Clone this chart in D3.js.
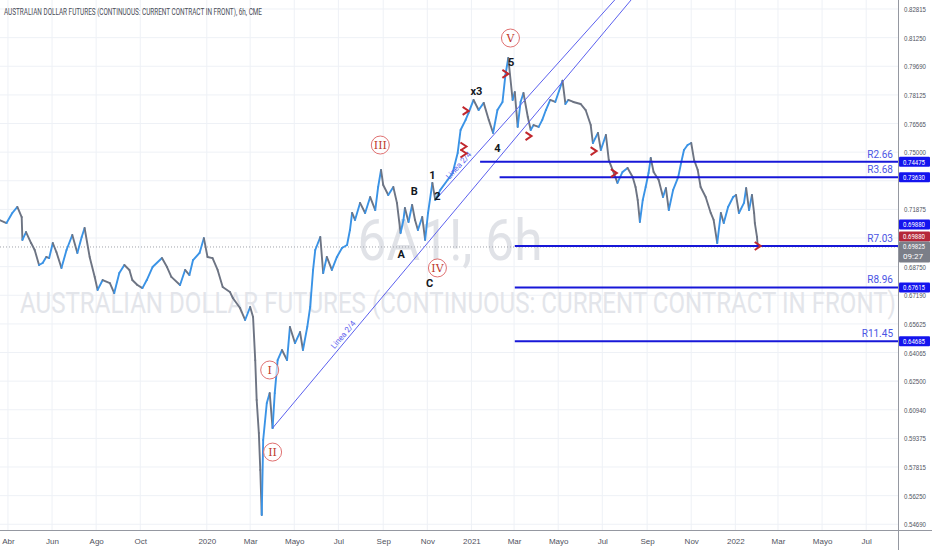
<!DOCTYPE html>
<html>
<head>
<meta charset="utf-8">
<title>6A1!, 6h</title>
<script src="https://d3js.org/d3.v7.min.js"></script>
<style>
  body { margin: 0; background: #fff; }
  svg { display: block; font-family: Roboto, "Liberation Sans", sans-serif; }
</style>
</head>
<body>
<div id="chart"></div>
<script>
// price path of 6A1!, roughly every few days
var dates = [
  "2019-03-20","2019-03-30","2019-04-07","2019-04-14","2019-04-20","2019-04-21","2019-04-26","2019-05-03","2019-05-08","2019-05-14",
  "2019-05-19","2019-05-24","2019-05-28","2019-06-02","2019-06-07","2019-06-14","2019-06-21","2019-06-29","2019-07-06","2019-07-12",
  "2019-07-16","2019-07-23","2019-07-30","2019-08-03","2019-08-10","2019-08-20","2019-08-26","2019-09-02","2019-09-09","2019-09-16",
  "2019-09-20","2019-09-27","2019-10-04","2019-10-10","2019-10-18","2019-10-31","2019-11-07","2019-11-13","2019-11-25","2019-12-02",
  "2019-12-08","2019-12-13","2019-12-22","2019-12-28","2020-01-02","2020-01-09","2020-01-16","2020-01-23","2020-02-02","2020-02-06",
  "2020-02-16","2020-02-23","2020-03-01","2020-03-05","2020-03-08","2020-03-10","2020-03-13","2020-03-15","2020-03-17","2020-03-19",
  "2020-03-24","2020-03-28","2020-04-01","2020-04-04","2020-04-08","2020-04-14","2020-04-21","2020-04-25","2020-05-02","2020-05-09",
  "2020-05-13","2020-05-19","2020-05-23","2020-05-27","2020-05-30","2020-06-06","2020-06-10","2020-06-15","2020-06-22","2020-06-29",
  "2020-07-06","2020-07-13","2020-07-17","2020-07-20","2020-07-24","2020-07-31","2020-08-07","2020-08-14","2020-08-21","2020-08-25",
  "2020-08-29","2020-09-01","2020-09-08","2020-09-15","2020-09-20","2020-09-25","2020-09-29","2020-10-01","2020-10-06","2020-10-11",
  "2020-10-15","2020-10-19","2020-10-25","2020-10-29","2020-11-02","2020-11-08","2020-11-12","2020-11-19","2020-11-29","2020-12-06",
  "2020-12-13","2020-12-17","2020-12-24","2020-12-28","2021-01-04","2021-01-11","2021-01-18","2021-01-25","2021-01-31","2021-02-06",
  "2021-02-13","2021-02-17","2021-02-21","2021-02-27","2021-03-02","2021-03-06","2021-03-10","2021-03-14","2021-03-20","2021-03-24",
  "2021-03-28","2021-04-04","2021-04-09","2021-04-14","2021-04-20","2021-04-27","2021-05-07","2021-05-11","2021-05-15","2021-05-22",
  "2021-06-01","2021-06-08","2021-06-15","2021-06-18","2021-06-25","2021-06-29","2021-07-06","2021-07-10","2021-07-17","2021-07-22",
  "2021-07-29","2021-08-05","2021-08-12","2021-08-16","2021-08-19","2021-08-22","2021-08-26","2021-08-30","2021-09-03","2021-09-06",
  "2021-09-10","2021-09-17","2021-09-23","2021-09-27","2021-10-01","2021-10-07","2021-10-14","2021-10-18","2021-10-22","2021-10-27",
  "2021-11-01","2021-11-05","2021-11-10","2021-11-14","2021-11-21","2021-11-28","2021-12-02","2021-12-07","2021-12-12","2021-12-16",
  "2021-12-22","2021-12-29","2022-01-02","2022-01-06","2022-01-13","2022-01-16","2022-01-20","2022-01-24","2022-01-27","2022-01-28",
  "2022-01-31","2022-02-01"
];
var prices = [
  0.7130,0.7113,0.7168,0.7201,0.7146,0.7021,0.7064,0.7004,0.6966,0.6884,
  0.6895,0.6928,0.6922,0.7004,0.6955,0.6868,0.6966,0.7048,0.6950,0.7037,
  0.7086,0.6928,0.6819,0.6748,0.6802,0.6785,0.6731,0.6840,0.6884,0.6857,
  0.6802,0.6775,0.6758,0.6802,0.6873,0.6922,0.6873,0.6819,0.6775,0.6857,
  0.6829,0.6911,0.6950,0.7031,0.6928,0.6922,0.6857,0.6764,0.6737,0.6704,
  0.6649,0.6584,0.6655,0.6600,0.6365,0.6147,0.5967,0.5765,0.5519,0.5929,
  0.6131,0.6185,0.5994,0.6185,0.6365,0.6420,0.6365,0.6546,0.6458,0.6518,
  0.6420,0.6546,0.6655,0.6857,0.6966,0.7037,0.6840,0.6928,0.6857,0.6928,
  0.6977,0.6993,0.7075,0.7168,0.7130,0.7223,0.7168,0.7255,0.7184,0.7310,
  0.7403,0.7321,0.7266,0.7310,0.7223,0.7059,0.7130,0.7195,0.7119,0.7212,
  0.7130,0.7075,0.7146,0.7021,0.7168,0.7332,0.7239,0.7294,0.7348,0.7386,
  0.7496,0.7621,0.7676,0.7714,0.7785,0.7730,0.7769,0.7676,0.7605,0.7730,
  0.7774,0.7921,0.8014,0.7785,0.7828,0.7638,0.7774,0.7823,0.7692,0.7621,
  0.7648,0.7638,0.7676,0.7730,0.7785,0.7774,0.7890,0.7763,0.7785,0.7774,
  0.7763,0.7730,0.7648,0.7550,0.7605,0.7512,0.7594,0.7457,0.7386,0.7332,
  0.7392,0.7414,0.7364,0.7310,0.7239,0.7119,0.7239,0.7310,0.7386,0.7468,
  0.7392,0.7348,0.7255,0.7304,0.7184,0.7294,0.7364,0.7441,0.7512,0.7539,
  0.7550,0.7457,0.7403,0.7310,0.7255,0.7168,0.7130,0.7004,0.7168,0.7113,
  0.7201,0.7255,0.7266,0.7168,0.7223,0.7304,0.7184,0.7266,0.7168,0.7113,
  0.7037,0.69825
];

// axis ticks
var monthTicks = ["2019-04-01","2019-06-01","2019-08-01","2019-10-01","2020-01-01","2020-03-01","2020-05-01","2020-07-01","2020-09-01","2020-11-01",
                  "2021-01-01","2021-03-01","2021-05-01","2021-07-01","2021-09-01","2021-11-01","2022-01-01","2022-03-01","2022-05-01","2022-07-01"];
var monthLabels = ["Abr","Jun","Ago","Oct","2020","Mar","Mayo","Jul","Sep","Nov","2021","Mar","Mayo","Jul","Sep","Nov","2022","Mar","Mayo","Jul"];
var priceTicks = [0.54690,0.56250,0.57815,0.59375,0.60940,0.62500,0.64065,0.65625,0.67190,0.68750,
                  0.70315,0.71875,0.73440,0.75000,0.76565,0.78125,0.79690,0.81250,0.82815];

// horizontal levels
var levelPrices = [0.74475, 0.73630, 0.69880, 0.67615, 0.64685];
var levelNames = ["R2.66", "R3.68", "R7.03", "R8.96", "R11.45"];
var levelStart = ["2021-01-13", "2021-02-09", "2021-03-02", "2021-03-02", "2021-03-02"];

// "Linea 2/4" trend lines
var trendFrom = [["2020-04-01", 0.5994], ["2020-11-12", 0.7239]];
var trendTo = [["2021-09-02", 0.8440], ["2021-08-12", 0.8440]];

// Elliott wave labels
var circledLabels = ["I", "II", "III", "IV", "V"];
var circledDates = ["2020-03-28", "2020-04-01", "2020-08-28", "2020-11-15", "2021-02-24"];
var circledPrices = [0.6311, 0.5863, 0.7539, 0.6868, 0.8123];
var waveLabels = ["1", "2", "x3", "4", "5", "A", "B", "C"];
var waveDates = ["2020-11-08", "2020-11-15", "2021-01-08", "2021-02-06", "2021-02-25", "2020-09-26", "2020-10-14", "2020-11-04"];
var wavePrices = [0.7375, 0.7261, 0.7834, 0.7523, 0.7992, 0.6944, 0.7288, 0.6786];

// red arrow marks
var markDates = ["2020-12-24", "2020-12-21", "2021-02-17", "2021-03-21", "2021-06-19", "2021-07-17", "2022-02-01"];
var markPrices = [0.7725, 0.7512, 0.7927, 0.7588, 0.7506, 0.7386, 0.6988];
var markCounts = [1, 2, 1, 1, 1, 1, 1];

// price scale tags
var tagPrices = [0.74475, 0.73630, 0.69880, 0.69880, 0.69825, 0.67615, 0.64685];
var tagKinds = ["level", "level", "level", "alert", "last", "level", "level"];
var countdown = "09:27";

var W = 932, H = 550, plotW = 898, plotH = 530;
var parse = d3.timeParse("%Y-%m-%d");
var fmt = d3.format(".5f");

var x = d3.scaleTime()
    .domain([parse("2019-03-21"), parse("2022-08-14")])
    .range([0, plotW]);
var y = d3.scaleLinear()
    .domain([0.54376, 0.83306])
    .range([plotH, 0]);

var svg = d3.select("#chart").append("svg")
    .attr("width", W)
    .attr("height", H);

svg.append("rect").attr("width", W).attr("height", H).attr("fill", "#ffffff");

svg.append("defs").append("clipPath").attr("id", "plot")
  .append("rect").attr("width", plotW).attr("height", plotH);

// grid
svg.append("g")
   .selectAll("line")
   .data(monthTicks)
   .enter().append("line")
   .attr("x1", function(d) { return x(parse(d)); })
   .attr("x2", function(d) { return x(parse(d)); })
   .attr("y1", 0).attr("y2", plotH)
   .attr("stroke", "#eef1f6");
svg.append("g")
   .selectAll("line")
   .data(priceTicks)
   .enter().append("line")
   .attr("x1", 0).attr("x2", plotW)
   .attr("y1", function(d) { return y(d); })
   .attr("y2", function(d) { return y(d); })
   .attr("stroke", "#eef1f6");

// watermark
svg.append("text")
   .attr("x", 450).attr("y", 260)
   .attr("text-anchor", "middle")
   .attr("font-size", 58)
   .attr("textLength", 185)
   .attr("lengthAdjust", "spacingAndGlyphs")
   .attr("fill", "#e0e2e7")
   .text("6A1!, 6h");
svg.append("text")
   .attr("x", 20).attr("y", 313)
   .attr("font-size", 30)
   .attr("textLength", 876)
   .attr("lengthAdjust", "spacingAndGlyphs")
   .attr("fill", "#e3e5ea")
   .text("AUSTRALIAN DOLLAR FUTURES (CONTINUOUS: CURRENT CONTRACT IN FRONT)");

// title
svg.append("text")
   .attr("x", 4).attr("y", 15)
   .attr("font-size", 9)
   .attr("textLength", 258)
   .attr("lengthAdjust", "spacingAndGlyphs")
   .attr("fill", "#4a4d57")
   .text("AUSTRALIAN DOLLAR FUTURES (CONTINUOUS: CURRENT CONTRACT IN FRONT), 6h, CME");

var plot = svg.append("g").attr("clip-path", "url(#plot)");

// last price line
var lastPrice = prices[prices.length - 1];
plot.append("line")
    .attr("x1", 0).attr("x2", plotW)
    .attr("y1", y(lastPrice)).attr("y2", y(lastPrice))
    .attr("stroke", "#a0a3ab")
    .attr("stroke-dasharray", "1,2");

// price series, blue when rising, grey when falling
var pts = dates.map(function(d, i) { return {date: parse(d), price: prices[i]}; });
plot.append("g")
    .selectAll("line")
    .data(d3.pairs(pts))
    .enter().append("line")
    .attr("x1", function(d) { return x(d[0].date); })
    .attr("y1", function(d) { return y(d[0].price); })
    .attr("x2", function(d) { return x(d[1].date); })
    .attr("y2", function(d) { return y(d[1].price); })
    .attr("stroke", function(d) { return d[1].price >= d[0].price ? "#3a93e6" : "#6d7483"; })
    .attr("stroke-width", 1.9)
    .attr("stroke-linecap", "round");

// trend lines
trendFrom.forEach(function(a, i) {
    var b = trendTo[i];
    var x1 = x(parse(a[0])), y1 = y(a[1]), x2 = x(parse(b[0])), y2 = y(b[1]);
    plot.append("line")
        .attr("x1", x1).attr("y1", y1).attr("x2", x2).attr("y2", y2)
        .attr("stroke", "#5b60ee")
        .attr("stroke-width", 1);
    var t = i === 0 ? 0.2 : 0.14;
    var lx = x1 + (x2 - x1) * t, ly = y1 + (y2 - y1) * t;
    var ang = Math.atan2(y2 - y1, x2 - x1) * 180 / Math.PI;
    plot.append("text")
        .attr("transform", "translate(" + lx + "," + ly + ") rotate(" + ang + ")")
        .attr("dy", -3)
        .attr("text-anchor", "middle")
        .attr("font-size", 8)
        .attr("fill", "#5b60ee")
        .text("Linea 2/4");
});

// horizontal levels
levelPrices.forEach(function(p, i) {
    plot.append("line")
        .attr("x1", x(parse(levelStart[i]))).attr("x2", plotW)
        .attr("y1", y(p)).attr("y2", y(p))
        .attr("stroke", "#1717d8")
        .attr("stroke-width", 2);
    plot.append("text")
        .attr("x", 893).attr("y", y(p) - 4)
        .attr("text-anchor", "end")
        .attr("font-size", 10)
        .attr("fill", "#4b55e4")
        .text(levelNames[i]);
});

// wave labels
circledLabels.forEach(function(l, i) {
    var cx = x(parse(circledDates[i])), cy = y(circledPrices[i]);
    plot.append("circle")
        .attr("cx", cx).attr("cy", cy).attr("r", 9)
        .attr("fill", "#ffffff").attr("fill-opacity", 0.6)
        .attr("stroke", "#e07070").attr("stroke-width", 1);
    plot.append("text")
        .attr("x", cx).attr("y", cy + 4)
        .attr("text-anchor", "middle")
        .attr("font-family", "DejaVu Serif, serif")
        .attr("font-size", 11)
        .attr("fill", "#c0392b")
        .text(l);
});
waveLabels.forEach(function(l, i) {
    plot.append("text")
        .attr("x", x(parse(waveDates[i]))).attr("y", y(wavePrices[i]) + 4)
        .attr("text-anchor", "middle")
        .attr("font-size", 11)
        .attr("font-weight", "bold")
        .attr("fill", "#131722")
        .text(l);
});

// red arrow marks
markDates.forEach(function(d, i) {
    var mx = x(parse(d)), my = y(markPrices[i]);
    for (var k = 0; k < markCounts[i]; k++) {
        var oy = markCounts[i] > 1 ? (k - 0.5) * 7 : 0;
        plot.append("path")
            .attr("d", "M" + (mx - 3) + "," + (my + oy - 4) + "L" + (mx + 3) + "," + (my + oy) + "L" + (mx - 3) + "," + (my + oy + 4))
            .attr("fill", "none")
            .attr("stroke", "#c1272d")
            .attr("stroke-width", 2);
    }
});

// x axis
var xAxis = svg.append("g")
    .attr("transform", "translate(0," + plotH + ")")
    .call(d3.axisBottom(x)
        .tickValues(monthTicks.map(parse))
        .tickSize(0)
        .tickPadding(8)
        .tickFormat(function(d, i) { return monthLabels[i]; }));
xAxis.select(".domain").remove();
xAxis.selectAll("text").attr("fill", "#50535e").attr("font-size", 8);
svg.append("line")
   .attr("x1", 0).attr("x2", W)
   .attr("y1", plotH + 0.5).attr("y2", plotH + 0.5)
   .attr("stroke", "#9598a1");

// price axis
svg.append("rect")
   .attr("x", plotW).attr("y", 0).attr("width", W - plotW).attr("height", plotH)
   .attr("fill", "#ffffff");
var yAxis = svg.append("g")
    .attr("transform", "translate(" + plotW + ",0)")
    .call(d3.axisRight(y)
        .tickValues(priceTicks)
        .tickSize(0)
        .tickPadding(6)
        .tickFormat(fmt));
yAxis.select(".domain").remove();
yAxis.selectAll("text")
     .attr("fill", "#50535e")
     .attr("font-size", 8)
     .attr("textLength", 22)
     .attr("lengthAdjust", "spacingAndGlyphs")
     .style("display", function(d) {
         // hide tick labels sitting under a tag
         return tagPrices.some(function(p) { return Math.abs(y(p) - y(d)) < 5; }) ? "none" : null;
     });
svg.append("line")
   .attr("x1", plotW + 0.5).attr("x2", plotW + 0.5)
   .attr("y1", 0).attr("y2", H)
   .attr("stroke", "#9598a1");

// price tags, stacked upward from the last price so they do not overlap
var tagColor = {level: "#1414ee", alert: "#b5273a", last: "#7b7e88"};
var tags = tagPrices.map(function(p, i) {
    return {price: p, kind: tagKinds[i], h: tagKinds[i] === "last" ? 21 : 10};
});
var lastTag = tags.filter(function(t) { return t.kind === "last"; })[0];
lastTag.top = y(lastTag.price) - 5.5;
var limit = lastTag.top;
tags.filter(function(t) { return t.kind !== "last" && y(t.price) <= y(lastTag.price) + 1 && y(t.price) > limit - 40; })
    .sort(function(a, b) { return a.kind === "alert" ? -1 : 1; })
    .forEach(function(t, k) {
        var top = Math.min(y(t.price) - t.h / 2, limit - t.h - (k === 0 ? 0 : 2));
        t.top = top;
        limit = top;
    });
tags.forEach(function(t) {
    if (t.top === undefined) t.top = y(t.price) - t.h / 2;
    var g = svg.append("g");
    g.append("rect")
     .attr("x", plotW + 1).attr("y", t.top)
     .attr("width", 31).attr("height", t.h)
     .attr("rx", 1)
     .attr("fill", tagColor[t.kind]);
    g.append("text")
     .attr("x", plotW + 5).attr("y", t.top + 8)
     .attr("font-size", 8)
     .attr("textLength", 22)
     .attr("lengthAdjust", "spacingAndGlyphs")
     .attr("fill", "#ffffff")
     .text(fmt(t.price));
    if (t.kind === "last") {
        g.append("text")
         .attr("x", plotW + 5).attr("y", t.top + 18)
         .attr("font-size", 8)
         .attr("fill", "#ffffff")
         .text(countdown);
    }
});
</script>
</body>
</html>
